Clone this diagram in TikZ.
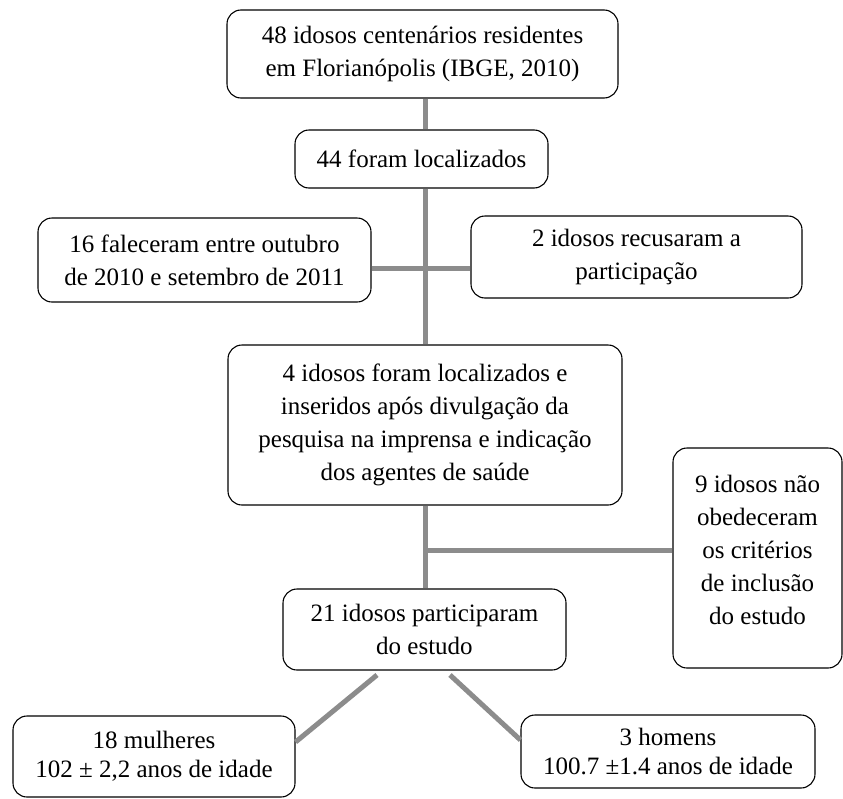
\documentclass[tikz,border=0pt]{standalone}
\usepackage{fontspec}
\setmainfont{Liberation Serif}
\begin{document}
\begin{tikzpicture}[x=1pt,y=-1pt,
  box/.style={draw=black, line width=1.1pt, rounded corners=14pt, align=center,
    inner sep=0pt, font=\fontsize{25}{33}\selectfont},
  smallbox/.style={box, font=\fontsize{25}{29}\selectfont},
  conn/.style={draw=black!45, line width=5pt}]
\useasboundingbox (0,0) rectangle (843,798);
\coordinate (t) at (425,0);
\node[box, minimum width=391pt, minimum height=88pt] (top) at (422.5,54)
  {48 idosos centenários residentes\\em Florianópolis (IBGE, 2010)};
\node[box, minimum width=253pt, minimum height=58pt] (loc) at (421.5,159)
  {44 foram localizados};
\node[box, minimum width=333pt, minimum height=84pt] (fal) at (204.5,260)
  {16 faleceram entre outubro\\de 2010 e setembro de 2011};
\node[box, minimum width=331pt, minimum height=82pt] (rec) at (636.5,257)
  {2 idosos recusaram a\\participação};
\node[box, minimum width=394pt, minimum height=160pt] (big) at (425,425)
  {4 idosos foram localizados e\\inseridos após divulgação da\\pesquisa na imprensa e indicação\\dos agentes de saúde};
\node[box, minimum width=169pt, minimum height=220pt] (nine) at (757.5,558)
  {9 idosos não\\obedeceram\\os critérios\\de inclusão\\do estudo\\[-17pt]\mbox{}};
\node[box, minimum width=283pt, minimum height=81pt] (part) at (424.5,629.5)
  {21 idosos participaram\\do estudo};
\node[smallbox, minimum width=282pt, minimum height=81pt] (mul) at (154,756.5)
  {18 mulheres\\102 ± 2,2 anos de idade};
\node[smallbox, minimum width=294pt, minimum height=73pt] (hom) at (668,751.5)
  {3 homens\\100.7 ±1.4 anos de idade};
\coordinate (j1) at (425,268);
\coordinate (j2) at (425,550);
\coordinate (d1) at (377,675);
\coordinate (d2) at (450,675);
\draw[conn] (top.south -| t) -- (loc.north -| t);
\draw[conn] (loc.south -| t) -- (big.north -| t);
\draw[conn] (fal.east |- j1) -- (rec.west |- j1);
\draw[conn] (big.south -| t) -- (part.north -| t);
\draw[conn] (j2) -- (nine.west |- j2);
\draw[conn] (d1) -- (mul.east |- 0,742);
\draw[conn] (d2) -- (hom.west |- 0,740);
\end{tikzpicture}
\end{document}
